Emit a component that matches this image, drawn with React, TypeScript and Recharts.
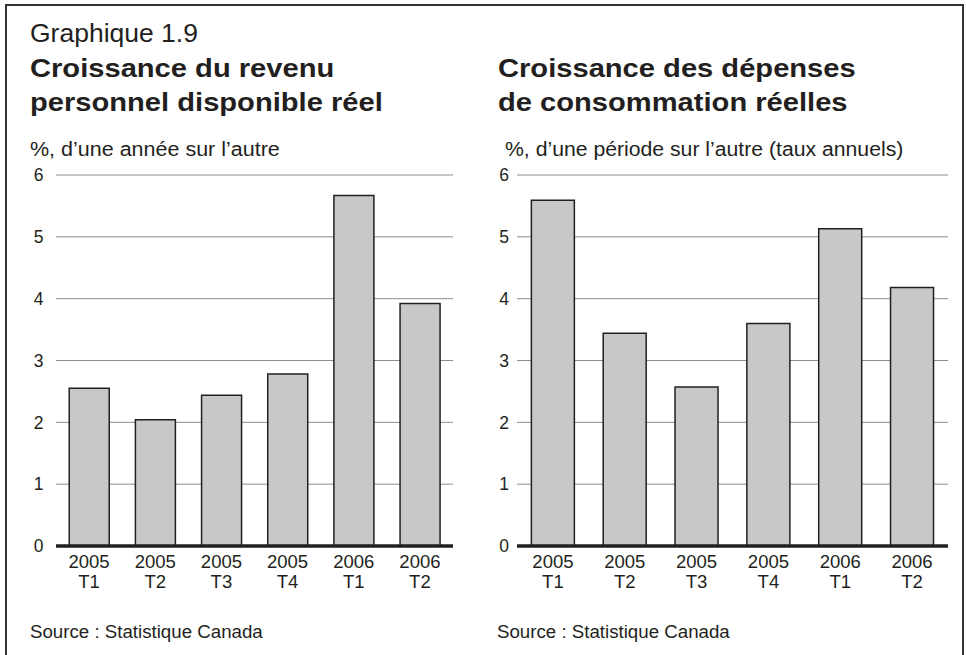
// App.tsx
// Graphique 1.9 — two side-by-side bar panels (revenu / dépenses), grey bars, black outline.
import { BarChart, Bar, XAxis, YAxis, CartesianGrid } from 'recharts'

const quarters = ['2005 T1', '2005 T2', '2005 T3', '2005 T4', '2006 T1', '2006 T2']
const revenuValues = [2.55, 2.04, 2.44, 2.78, 5.67, 3.92]
const depensesValues = [5.59, 3.44, 2.57, 3.6, 5.13, 4.18]
const yTicks = [0, 1, 2, 3, 4, 5, 6]

const INK = '#231f20'
const FONT = '"Liberation Sans", Arial, Helvetica, sans-serif'

const revenuData = quarters.map((q, i) => ({ quarter: q, value: revenuValues[i] }))
const depensesData = quarters.map((q, i) => ({ quarter: q, value: depensesValues[i] }))

// Two-line category label: year on top, quarter below
function QuarterTick(props: any) {
  const { x, y, payload } = props
  const [year, q] = String(payload.value).split(' ')
  return (
    <g transform={`translate(${x},${y})`}>
      <text textAnchor="middle" fontSize={18.5} fill={INK}>
        <tspan x={0} y={22}>{year}</tspan>
        <tspan x={0} y={42}>{q}</tspan>
      </text>
    </g>
  )
}

// HTML label placed by its baseline (line-height 1 => baseline ≈ top + 0.8465em)
function Label({ x, baseline, size, bold, sx = 1, children }: any) {
  return (
    <div
      style={{
        position: 'absolute',
        left: x,
        top: baseline - 0.8465 * size,
        fontSize: size,
        lineHeight: 1,
        fontWeight: bold ? 700 : 400,
        whiteSpace: 'pre',
        color: INK,
        transform: `scaleX(${sx})`,
        transformOrigin: 'left top',
      }}
    >
      {children}
    </div>
  )
}

function Panel({ data, left, width, yWidth, rightMargin, tickGap }: any) {
  return (
    <div style={{ position: 'absolute', left, top: 160 }}>
      <BarChart
        width={width}
        height={450}
        data={data}
        margin={{ top: 15, right: rightMargin, bottom: 0, left: 0 }}
        barCategoryGap="20%"
      >
        <CartesianGrid vertical={false} stroke="#8c8c8c" strokeWidth={1} />
        <YAxis
          width={yWidth}
          domain={[0, 6]}
          ticks={yTicks}
          axisLine={false}
          tickLine={false}
          tickSize={0}
          tickMargin={tickGap}
          tick={{ fontSize: 17.5, fill: INK }}
        />
        <XAxis
          dataKey="quarter"
          height={64}
          axisLine={{ stroke: INK, strokeWidth: 3.5 }}
          tickLine={false}
          tickSize={0}
          tickMargin={0}
          interval={0}
          tick={<QuarterTick />}
        />
        <Bar dataKey="value" fill="#c7c8ca" stroke={INK} strokeWidth={1.5} isAnimationActive={false} />
      </BarChart>
    </div>
  )
}

export default function App() {
  return (
    <div
      style={{
        position: 'absolute',
        left: 0,
        top: 0,
        width: 966,
        height: 655,
        overflow: 'hidden',
        background: '#fff',
        fontFamily: FONT,
      }}
    >
      <div
        style={{
          position: 'absolute',
          left: 5,
          top: 4,
          width: 955,
          height: 670,
          border: '2px solid #333',
        }}
      />

      <Label x={30} baseline={42} size={25} sx={1.06}>Graphique 1.9</Label>
      <Label x={30} baseline={77.5} size={26} bold sx={1.12}>Croissance du revenu</Label>
      <Label x={30} baseline={111} size={26} bold sx={1.12}>personnel disponible réel</Label>
      <Label x={30} baseline={156} size={20} sx={1.075}>%, d’une année sur l’autre</Label>

      <Label x={498} baseline={77.5} size={26} bold sx={1.12}>Croissance des dépenses</Label>
      <Label x={498} baseline={111} size={26} bold sx={1.12}>de consommation réelles</Label>
      <Label x={505} baseline={156} size={20} sx={1.06}>%, d’une période sur l’autre (taux annuels)</Label>

      <Panel data={revenuData} left={0} width={470} yWidth={56} rightMargin={17} tickGap={12.5} />
      <Panel data={depensesData} left={460} width={500} yWidth={57} rightMargin={12} tickGap={8} />

      <Label x={30} baseline={639} size={18.7}>Source : Statistique Canada</Label>
      <Label x={497} baseline={639} size={18.7}>Source : Statistique Canada</Label>
    </div>
  )
}
